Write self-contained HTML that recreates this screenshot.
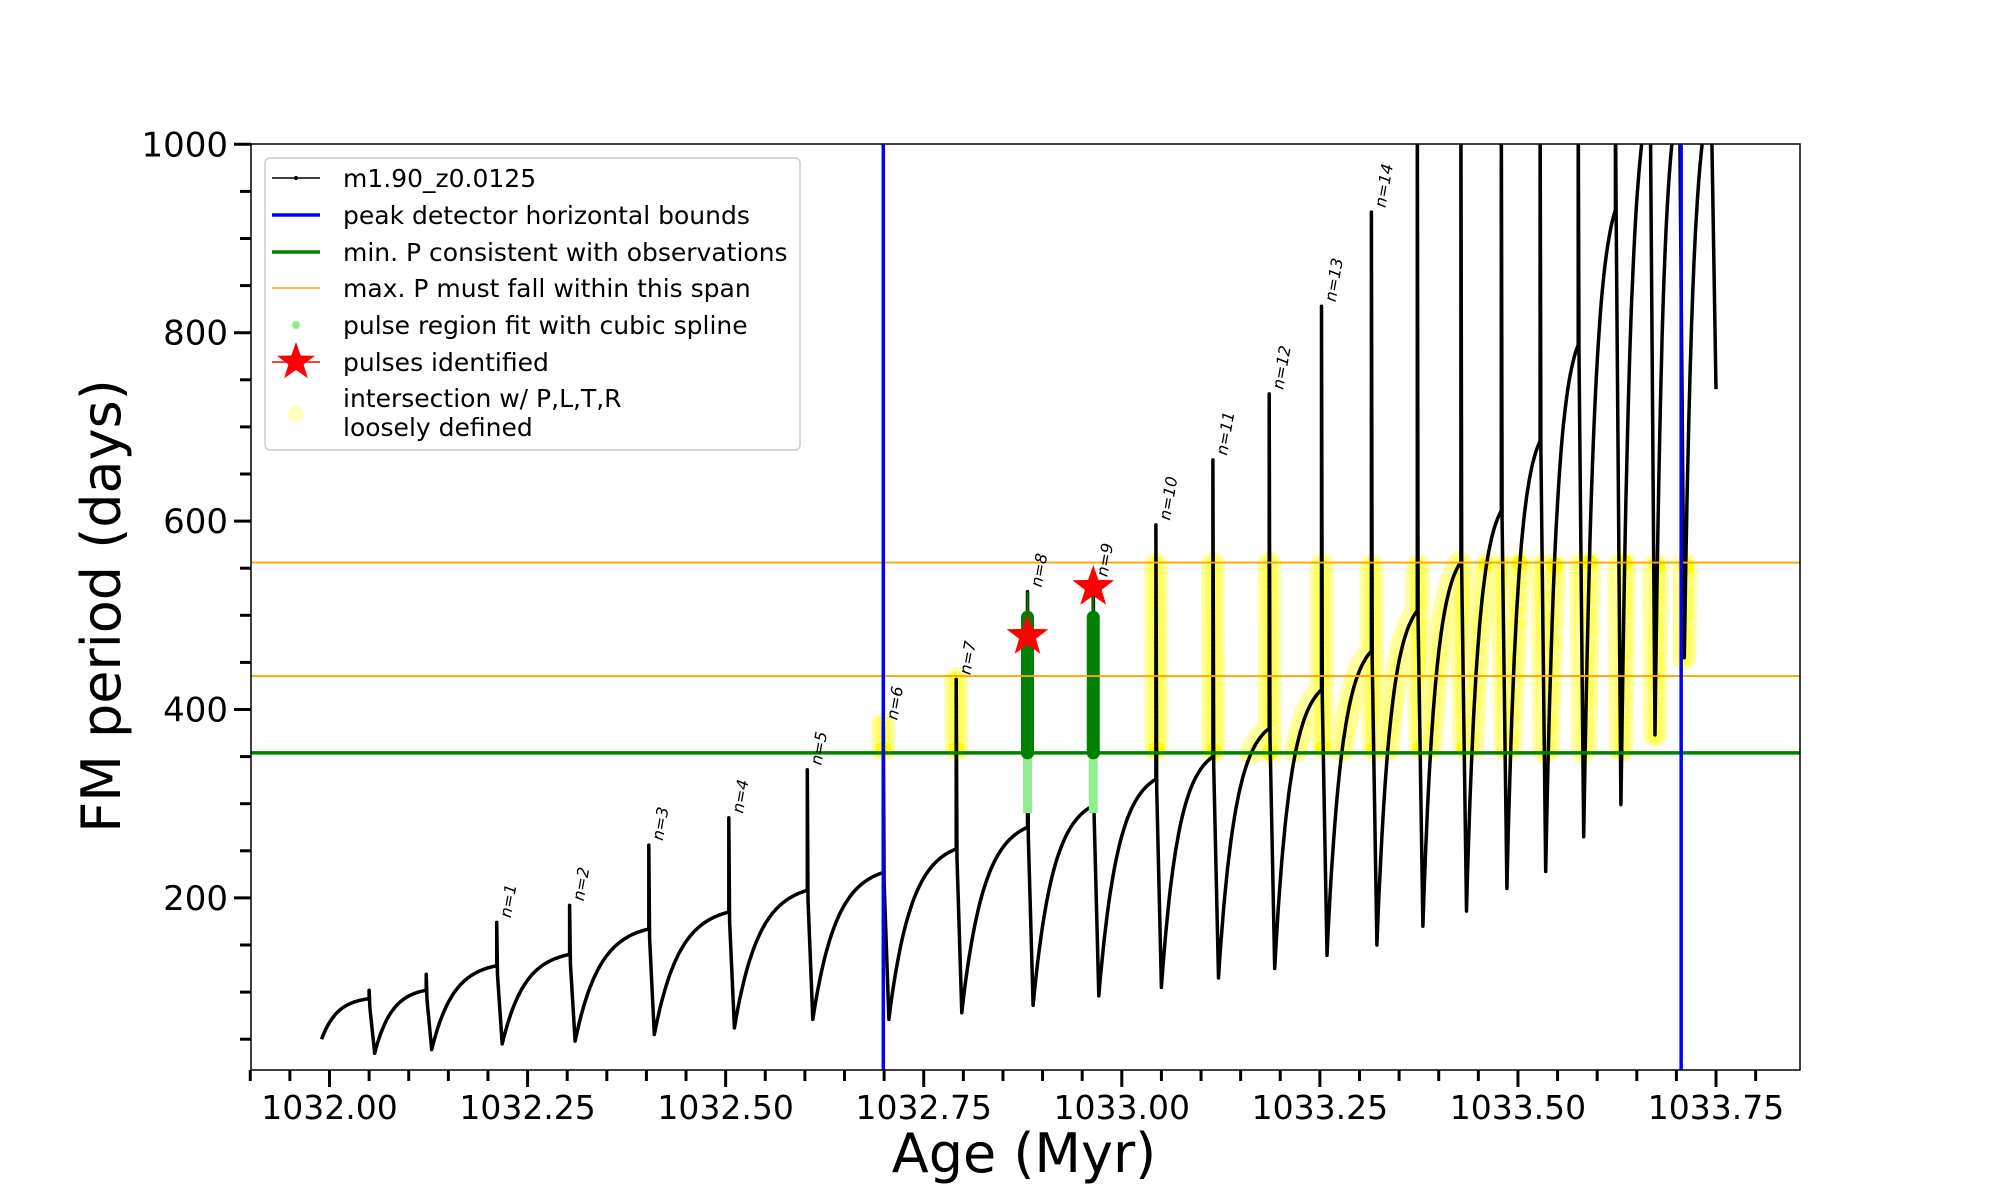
<!DOCTYPE html>
<html><head><meta charset="utf-8">
<style>
html,body{margin:0;padding:0;background:#fff;}
svg{display:block;font-family:"DejaVu Sans","Liberation Sans",sans-serif;}
</style></head>
<body>
<svg id="chart" width="2000" height="1200" viewBox="0 0 2000 1200" xmlns="http://www.w3.org/2000/svg">
<defs><clipPath id="plotclip"><rect x="251" y="144" width="1549" height="926"/></clipPath></defs>
<rect x="0" y="0" width="2000" height="1200" fill="#fff"/>
<g id="plot" clip-path="url(#plotclip)"></g>
<rect x="251" y="144" width="1549" height="926" fill="none" stroke="#000" stroke-width="1.5"/>
<g id="axes"></g>
<text x="1024" y="1172" font-size="54" text-anchor="middle">Age (Myr)</text>
<text transform="translate(120,606) rotate(-90)" font-size="54" text-anchor="middle">FM period (days)</text>
<g id="legend">
<rect x="265" y="158" width="535" height="292" rx="5" fill="#fff" fill-opacity="0.85" stroke="#ccc" stroke-width="1.5"/>
<line x1="272" y1="178" x2="320" y2="178" stroke="#000" stroke-width="1.5"/><circle cx="296" cy="178" r="2" fill="#000"/>
<text x="343" y="187" font-size="25">m1.90_z0.0125</text>
<line x1="272" y1="215" x2="320" y2="215" stroke="#0000ff" stroke-width="3.5"/>
<text x="343" y="224" font-size="25">peak detector horizontal bounds</text>
<line x1="272" y1="252" x2="320" y2="252" stroke="#008000" stroke-width="3.5"/>
<text x="343" y="261" font-size="25">min. P consistent with observations</text>
<line x1="272" y1="288" x2="320" y2="288" stroke="#ffa500" stroke-width="1.5"/>
<text x="343" y="297" font-size="25">max. P must fall within this span</text>
<circle cx="296" cy="325" r="4" fill="#90ee90"/>
<text x="343" y="334" font-size="25">pulse region fit with cubic spline</text>
<line x1="272" y1="362" x2="320" y2="362" stroke="#ff0000" stroke-width="1.5"/>
<polygon id="legstar" fill="#ff0000"/>
<text x="343" y="371" font-size="25">pulses identified</text>
<circle cx="296" cy="414" r="8" fill="#ffffc0"/>
<text x="343" y="407" font-size="25">intersection w/ P,L,T,R</text>
<text x="343" y="436" font-size="25">loosely defined</text>
</g>
</svg>
<script>
// ---- data ----
var pulseAge = [1032.050,1032.122,1032.211,1032.303,1032.403,1032.504,1032.603,1032.699,1032.791,1032.881,1032.964,1033.043,1033.115,1033.186,1033.252,1033.315,1033.373,1033.428,1033.479,1033.528,1033.576,1033.623,1033.666,1033.703,1033.743];
var pulseTop = [102,119,174,192,256,285,336,384,432,525,536,596,665,735,828,928,1050,1050,1050,1050,1050,1050,1050,1050,1050];
var prePeriod = [93,102,128,140,167,185,208,227,252,275,298,326,350,380,421,462,505,557,611,685,787,930,1050,1050,1050];
var minPeriod = [35,39,45,48,55,62,71,71,78,86,96,105,115,125,139,150,170,186,210,228,265,299,373,455,740];
var pulseLabel = ["","","n=1","n=2","n=3","n=4","n=5","n=6","n=7","n=8","n=9","n=10","n=11","n=12","n=13","n=14","","","","","","","","",""];
var startAge = 1031.990, startPeriod = 50;
var blueBounds = [1032.699, 1033.706];
var greenMin = [354];
var orangeSpan = [435.5, 556];
var starAges = [1032.881, 1032.964];
var starPeriods = [478, 530];
var xTicks = [1032.00,1032.25,1032.50,1032.75,1033.00,1033.25,1033.50,1033.75];
var xTickLabels = ["1032.00","1032.25","1032.50","1032.75","1033.00","1033.25","1033.50","1033.75"];
var yTicks = [200,400,600,800,1000];
var yTickLabels = ["200","400","600","800","1000"];

// ---- axes ----
function X(t){return 329.5+(t-1032)*792.3;}
function Y(v){return 144.3+(1000-v)*0.942;}
var NS="http://www.w3.org/2000/svg";
function mk(tag,attrs,parent){var e=document.createElementNS(NS,tag);for(var k in attrs)e.setAttribute(k,attrs[k]);parent.appendChild(e);return e;}
var plot=document.getElementById('plot'), axes=document.getElementById('axes');

for(var i=0;i<=38;i++){var t=1031.90+i*0.05;if(t>1033.81)break;var major=Math.abs(((t-1032)/0.25)-Math.round((t-1032)/0.25))<1e-6;
 var tk=mk('line',{x1:X(t),x2:X(t),y1:1070,y2:1070+(major?17:11),stroke:'#000','stroke-width':3},axes);
 
 }
xTicks.forEach(function(t,i){var tx=mk('text',{x:X(t),y:1119,'font-size':33,'text-anchor':'middle'},axes);tx.textContent=xTickLabels[i];
 
 });
for(var v=50;v<=1000;v+=50){var major=v%200===0;var tk=mk('line',{x1:251-(major?17:11),x2:251,y1:Y(v),y2:Y(v),stroke:'#000','stroke-width':3},axes);
 
 }
yTicks.forEach(function(v,i){var tx=mk('text',{x:228,y:Y(v)+12,'font-size':34,'text-anchor':'end'},axes);tx.textContent=yTickLabels[i];
 
 });

// ---- curve geometry ----
function rise(t0,v0,t1,v1){var pts=[];for(var k=0;k<=40;k++){var s=k/40;var f=(1-Math.exp(-3*s))/(1-Math.exp(-3));pts.push([t0+(t1-t0)*s,v0+(v1-v0)*f]);}return pts;}
var curve=rise(startAge,startPeriod,pulseAge[0],prePeriod[0]);
for(var i=0;i<pulseAge.length;i++){
 var t=pulseAge[i];
 curve.push([t,prePeriod[i]]);curve.push([t,pulseTop[i]]);curve.push([t+0.001,Math.min(prePeriod[i],pulseTop[i])-10]);
 var tm=t+0.007;curve.push([tm,minPeriod[i]]);
 if(i+1<pulseAge.length){curve=curve.concat(rise(tm,minPeriod[i],pulseAge[i+1],prePeriod[i+1]));}
}
var yl=mk('g',{},plot);
for(var i=1;i<curve.length;i++){var a=curve[i-1],b=curve[i];
 var n=Math.max(1,Math.ceil(Math.abs(Y(b[1])-Y(a[1]))/5));
 for(var k=0;k<=n;k++){var tt=a[0]+(b[0]-a[0])*k/n,vv=a[1]+(b[1]-a[1])*k/n;
  if(vv>=greenMin[0]&&vv<=orangeSpan[1]&&(tt>1033.13||(tt>1032.69&&tt<1032.80)||(tt>1033.0))){
   if(tt>1032.87&&tt<1032.98)continue;
   mk('circle',{cx:X(tt),cy:Y(vv),r:12,fill:'#ffffa0','fill-opacity':0.6},yl);
   mk('circle',{cx:X(tt),cy:Y(vv),r:8,fill:'#ffff00'},yl);}}}
var d='';curve.forEach(function(p,i){d+=(i?'L':'M')+X(p[0]).toFixed(1)+','+Y(p[1]).toFixed(1);});
var path=mk('path',{d:d,fill:'none',stroke:'#000','stroke-width':3.5,'stroke-linejoin':'round'},plot);


starAges.forEach(function(t,i){
 var lg=mk('line',{x1:X(t),x2:X(t),y1:Y(290),y2:Y(greenMin[0]),stroke:'#90ee90','stroke-width':9},plot);
 
 
 var g=mk('line',{x1:X(t),x2:X(t),y1:Y(greenMin[0]),y2:Y(498),stroke:'#008000','stroke-width':13,'stroke-linecap':'round'},plot);
 
 
 var th=mk('line',{x1:X(t),x2:X(t),y1:Y(greenMin[0]),y2:Y(pulseTop[pulseAge.indexOf(t)]),stroke:'#008000','stroke-width':2},plot);
 
 });
orangeSpan.forEach(function(v){var l=mk('line',{x1:251,x2:1800,y1:Y(v),y2:Y(v),stroke:'#ffa500','stroke-width':1.8},plot);
 
 });
var gl=mk('line',{x1:251,x2:1800,y1:Y(greenMin[0]),y2:Y(greenMin[0]),stroke:'#008000','stroke-width':3.5},plot);


blueBounds.forEach(function(t){var l=mk('line',{x1:X(t),x2:X(t),y1:144,y2:1070,stroke:'#0000ff','stroke-width':3.5},plot);
 
 });
function starPts(cx,cy,R){var r=R*0.4,s='';for(var k=0;k<10;k++){var a=-Math.PI/2+k*Math.PI/5,rr=k%2?r:R;s+=(cx+rr*Math.cos(a)).toFixed(1)+','+(cy+rr*Math.sin(a)).toFixed(1)+' ';}return s;}
starAges.forEach(function(t,i){var s=mk('polygon',{points:starPts(X(t),Y(starPeriods[i]),22),fill:'#ff0000'},plot);
 
 });
document.getElementById('legstar').setAttribute('points',starPts(296,362,20));
pulseLabel.forEach(function(lb,i){if(!lb)return;var x=X(pulseAge[i])+14,y=Y(Math.min(pulseTop[i],1000))-4;
 var tx=mk('text',{x:x,y:y,'font-size':16,'font-style':'italic',transform:'rotate(-80 '+x+' '+y+')'},document.getElementById('chart'));
 tx.textContent=lb;
 
 });
</script>
</body></html>
